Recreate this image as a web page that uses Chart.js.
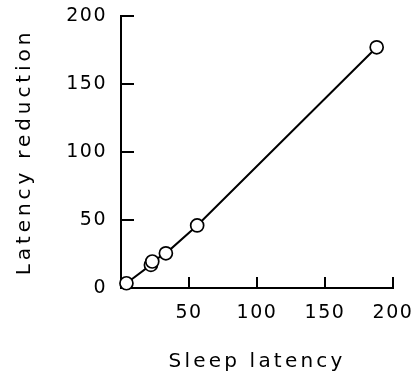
<!DOCTYPE html>
<html>
<head>
<meta charset="utf-8">
<script src="https://cdn.jsdelivr.net/npm/chart.js@4"></script>
<style>
  body { margin: 0; background: #fff; }
  canvas { display: block; }
</style>
</head>
<body>
<canvas id="chart" width="416" height="377"></canvas>
<script>
// values
const sleepLatency = [4, 22, 23, 33, 56, 188];
const latencyReduction = [3.5, 17, 19.5, 25.5, 46, 177];
const xTicks = [50, 100, 150, 200];
const yTicks = [0, 50, 100, 150, 200];

const fontFamily = '"DejaVu Sans", sans-serif';

// inward tick marks + letter spacing, the library only draws ticks outward
const inwardTicks = {
    id: 'inwardTicks',
    beforeDraw(chart) {
        const ctx = chart.ctx;
        ctx.letterSpacing = '1.5px';
        ['x', 'y'].forEach(function (id) {
            const scale = chart.scales[id];
            if (scale._spaced) return;
            const proto = Object.getPrototypeOf(scale);
            const ls = id === 'y' ? '3.9px' : '3.2px';
            scale.drawTitle = function () {
                ctx.letterSpacing = ls;
                proto.drawTitle.call(this);
                ctx.letterSpacing = '1.5px';
            };
            scale._spaced = true;
        });
    },
    afterDraw(chart) {
        const ctx = chart.ctx;
        const xs = chart.scales.x;
        const ys = chart.scales.y;
        const area = chart.chartArea;
        ctx.save();
        ctx.strokeStyle = '#000';
        ctx.lineWidth = 2;
        ctx.beginPath();
        yTicks.forEach(function (v) {
            if (v === 0) return;
            const py = ys.getPixelForValue(v);
            ctx.moveTo(area.left, py);
            ctx.lineTo(area.left + 13, py);
        });
        xTicks.forEach(function (v) {
            const px = xs.getPixelForValue(v);
            ctx.moveTo(px, area.bottom);
            ctx.lineTo(px, area.bottom - 11);
        });
        ctx.stroke();
        ctx.restore();
        ctx.letterSpacing = '0px';
    }
};

const points = sleepLatency.map(function (x, i) {
    return { x: x, y: latencyReduction[i] };
});

const config = {
    type: 'line',
    data: {
        datasets: [{
            data: points,
            borderColor: '#000',
            borderWidth: 2,
            pointRadius: 6.5,
            pointBorderWidth: 1.7,
            pointBackgroundColor: '#fff',
            pointBorderColor: '#000',
            tension: 0,
            fill: false,
            clip: false
        }]
    },
    options: {
        responsive: false,
        animation: false,
        layout: {
            padding: { top: 16, right: 23, bottom: 0, left: 0 }
        },
        plugins: {
            legend: { display: false },
            tooltip: { enabled: false }
        },
        scales: {
            x: {
                type: 'linear',
                min: 0,
                max: 200,
                afterFit: function (scale) {
                    scale.height = 89;
                    scale.paddingLeft = 0;
                    scale.paddingRight = 0;
                },
                afterBuildTicks: function (scale) {
                    scale.ticks = xTicks.map(function (v) { return { value: v }; });
                },
                grid: { display: false, drawTicks: false },
                border: { display: true, color: '#000', width: 2 },
                ticks: {
                    padding: 14,
                    color: '#000',
                    font: { family: fontFamily, size: 19 }
                },
                title: {
                    display: true,
                    text: 'Sleep latency',
                    color: '#000',
                    padding: { top: 0, bottom: 3 },
                    font: { family: fontFamily, size: 20 }
                }
            },
            y: {
                type: 'linear',
                min: 0,
                max: 200,
                afterFit: function (scale) {
                    scale.width = 121;
                    scale.paddingTop = 0;
                    scale.paddingBottom = 0;
                },
                afterBuildTicks: function (scale) {
                    scale.ticks = yTicks.map(function (v) { return { value: v }; });
                },
                grid: { display: false, drawTicks: false },
                border: { display: true, color: '#000', width: 2 },
                ticks: {
                    padding: 14,
                    color: '#000',
                    font: { family: fontFamily, size: 19 }
                },
                title: {
                    display: true,
                    text: 'Latency reduction',
                    color: '#000',
                    padding: { top: 13, bottom: 0 },
                    font: { family: fontFamily, size: 20 }
                }
            }
        }
    },
    plugins: [inwardTicks]
};

const myChart = new Chart(document.getElementById('chart'), config);
</script>
</body>
</html>
